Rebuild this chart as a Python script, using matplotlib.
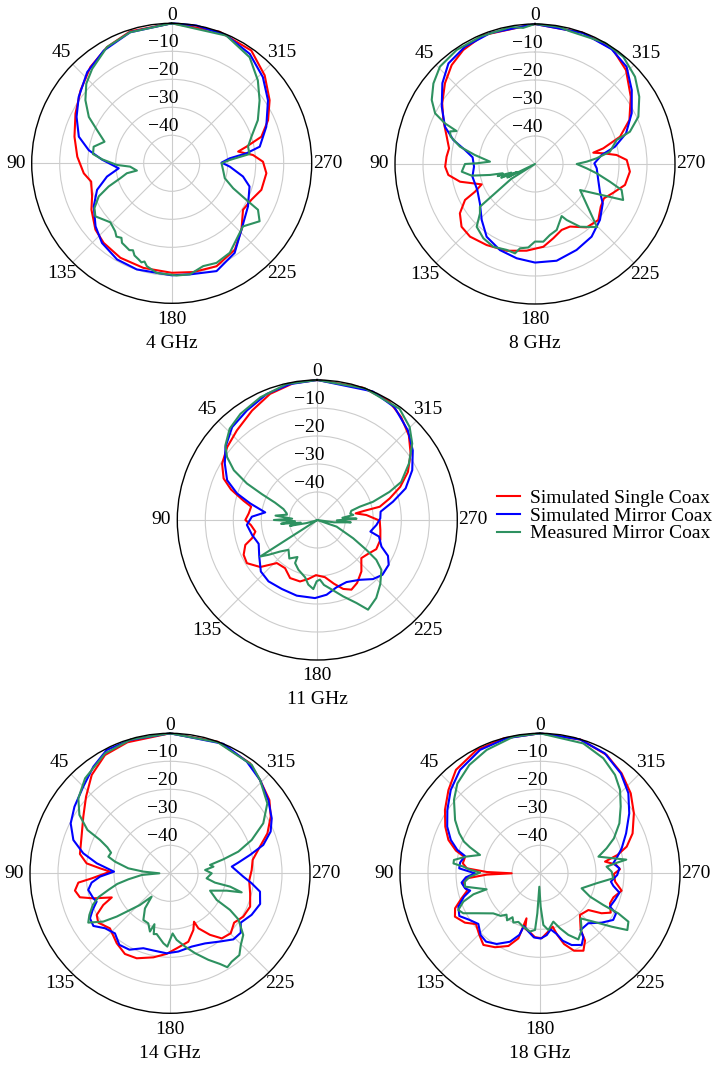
import numpy as np
import matplotlib
matplotlib.use("Agg")
import matplotlib.pyplot as plt
from matplotlib import transforms

plt.rcParams['font.family'] = ['Liberation Serif', 'DejaVu Serif']

f_size = 14
l_width = 1.5
c_single = "#ff0000"
c_mirror = "#0000ff"
c_meas = "#2e9160"
grid_color = "#cccccc"

labels = ["Simulated Single Coax", "Simulated Mirror Coax", "Measured Mirror Coax"]
freqs = ["4 GHz", "8 GHz", "11 GHz", "14 GHz", "18 GHz"]
ring_vals = [-40, -30, -20, -10]
theta_ticks = [0, 45, 90, 135, 180, 225, 270, 315]

# ---------------- 4 GHz ----------------
th4_single = [0, 17.4, 29.1, 40.2, 51.3, 62.6, 74.7, 86, 96.5, 102.8, 112.6, 120, 131, 139.5, 151.5, 164.9,
              180, 191.2, 203.5, 216.2, 226.4, 236.9, 245.4, 253.5, 264, 271, 275.8, 280, 282.5, 286.5,
              294.1, 302.8, 313.4, 324.8, 340, 360]
db4_single = [0, -0.6, -2.5, -5, -8.3, -11.3, -14, -16.2, -18.4, -20.5, -19.2, -16.9, -13.9, -12.6, -11.6, -11.3,
              -10.9, -10.4, -9.9, -11.8, -15.6, -19.6, -18.7, -16.6, -16, -17.4, -20.8, -25.9, -22.7, -16.6,
              -12.3, -8.4, -4.3, -0.7, 0, 0]
th4_mirror = [0, 17.6, 31.1, 42.8, 54.5, 64, 74, 81, 87, 95.4, 101.6, 109.6, 118.9, 129.6, 138.8, 150.4, 161.8,
              180, 189.3, 202.6, 215.1, 226.4, 240.5, 253.4, 259.5, 266.7, 270.8, 274.9, 277.6, 280.7, 291.1,
              303.2, 313.4, 324.5, 337, 349.8, 360]
db4_mirror = [0, -0.9, -3.0, -5.6, -9.2, -12.2, -15.5, -20, -25.1, -31, -26.4, -21.7, -18.2, -14.7, -12.2, -10.5,
              -10.1, -10, -9.8, -8.3, -10.9, -15.6, -18.7, -21, -24.1, -29.2, -32.2, -29.2, -23.1, -18, -13.8,
              -8.9, -5.2, -2, -0.3, 0, 0]
th4_meas = [0, 17.6, 29.1, 40.1, 47, 53.8, 60.8, 66, 72.2, 78, 83.3, 86.7, 91.7, 94.6, 101.8, 102.5, 106.2,
            110.2, 114.4, 120.1, 124.8, 133.9, 140.3, 143, 146, 148, 150.8, 154, 156, 158, 161, 163, 164.5,
            166.4, 172.2, 182.5, 189.3, 197, 204.2, 213, 222.3, 228.5, 236.6, 241.7, 243.9, 247.9, 254.3,
            262.6, 270, 273.3, 276.8, 282.3, 288.4, 296.6, 305.6, 313.9, 323.7, 336.8, 360]
db4_meas = [0, -0.9, -2.5, -5.9, -8.3, -11.8, -16.1, -20.8, -24.8, -21.5, -21.7, -25.1, -30.4, -35.1, -37.3,
            -33.6, -30.9, -26, -21.4, -18.1, -16.8, -19.6, -18.4, -17.2, -17.9, -16.5, -16.1, -15.5, -16.0,
            -14.5, -13.7, -13.0, -13.6, -12.2, -10.5, -9.9, -9.8, -11.6, -11, -11.9, -14.8, -16, -12.4, -15,
            -20.3, -26.3, -30.3, -31.5, -32.2, -29.2, -22, -22.1, -20, -15.6, -11.4, -7.3, -3, -0.4, 0]

# ---------------- 8 GHz ----------------
th8_single = [0, 21.8, 32.2, 40.1, 48.1, 56.8, 64.4, 72.8, 79.7, 85.3, 91.7, 97.2, 103.3, 110.9, 114.8, 117.2,
              123.3, 130.5, 138.2, 149.2, 161.9, 174.5, 185.8, 193.9, 202, 209.2, 219.2, 228.5, 237, 243.5,
              249.9, 256.9, 265.4, 272.5, 276.3, 278.9, 281, 282.9, 287.8, 295, 305.1, 315.9, 325.9, 340, 360]
db8_single = [0, -0.4, -1.9, -3.8, -6.8, -10.4, -13.7, -17, -18.8, -18.3, -17.9, -18.8, -22.5, -29.6, -26.4,
              -21.9, -17.9, -15.5, -15.2, -16.3, -17.4, -18.9, -20.3, -22.7, -24.6, -24.4, -20.8, -19.8, -22,
              -22.5, -20.2, -17, -16, -17.2, -20.7, -25.3, -28.8, -25, -18.1, -12.8, -8.2, -3.3, -0.5, -0.1, 0]
th8_mirror = [0, 19, 30.8, 40.7, 48.9, 58.4, 67.5, 73.6, 78.7, 83.9, 92.5, 101.4, 114.3, 125.6, 136.4, 146.4,
              157.9, 169, 180, 192.6, 205.8, 217.9, 229.3, 239.8, 246.9, 255.8, 266, 270.6, 277.7, 282.2,
              288.6, 297.7, 307.4, 316.7, 326.3, 340, 360]
db8_mirror = [0, -0.6, -1.2, -2.6, -6.1, -10.9, -15.2, -19.6, -24.5, -27.6, -28.2, -27.2, -27.4, -25.8, -22.4,
              -18.8, -16.8, -15.7, -14.8, -14.6, -15.9, -17.1, -19.4, -22, -24.8, -26.7, -27.9, -28.8, -26,
              -20.8, -15.7, -11, -6.5, -2.3, -0.7, -0.2, 0]
th8_meas = [0, 5, 10, 23, 34.5, 44.3, 51.6, 58.2, 63.1, 65.7, 67.2, 69, 72, 77, 81.5, 87, 89.3, 90, 96, 100.4,
            103.7, 106, 108, 110, 112, 114, 116, 118, 122, 127.8, 131.9, 137.1, 145.2, 153.3, 161.8, 167.4,
            169.9, 175.4, 180, 186.1, 191.9, 198.2, 207.1, 209.5, 215.7, 224.5, 240, 247.8, 253.3, 256.7,
            261.4, 265.2, 270, 272.6, 275.3, 279.3, 286.4, 288.8, 294.6, 302.8, 311.1, 320.5, 330, 345, 350,
            360]
db8_meas = [0, -1.2, -0.3, -0.5, -0.6, -1.4, -3.7, -6.6, -10, -14.7, -19.6, -17.5, -18.3, -22.5, -28.3, -33.9,
            -29.2, -25, -23.7, -27, -33.5, -38, -36, -41, -37, -43, -39, -50, -40, -25.1, -23.6, -19.4, -17.7,
            -16.9, -17.7, -17.3, -19.4, -20.1, -22.3, -22.1, -24.1, -25.2, -29.1, -27, -22.4, -18.4, -31.4,
            -16, -17.7, -22.5, -27.7, -31.5, -35.1, -31.5, -27.9, -22.9, -19.6, -14.2, -9.4, -5.7, -2.6,
            -0.4, 0, -1.0, -0.3, 0]

# ---------------- 11 GHz ----------------
th11_single = [0, 9.9, 20.5, 30.8, 41.9, 51, 59.4, 66.1, 70.5, 75.4, 78.6, 84.5, 90, 94.3, 100.6, 105.6, 109.1,
               115.3, 121.5, 129.5, 136.8, 146.2, 154.9, 164.3, 171.4, 178.6, 187.6, 194.6, 200.6, 206.1,
               212.3, 220.6, 229.1, 236.3, 243.7, 252.5, 261, 269.4, 275.8, 279.8, 281.1, 282, 286.6, 291.8,
               297.9, 305.4, 312.7, 320.8, 329, 341, 360]
db11_single = [0, -0.4, -1.9, -4.5, -7, -8.6, -10.5, -13.4, -17.3, -22.8, -25.9, -25.4, -24.3, -26.2, -27.5,
               -25.8, -22.8, -20.9, -20.5, -23.6, -28.9, -29.3, -27.1, -27.2, -28.7, -30.3, -29.4, -26.5, -23.7,
               -22.3, -23.4, -25.8, -29.2, -28.2, -26.5, -26.4, -27.2, -27.7, -32.4, -36.1, -32.7, -27.2, -23,
               -18.1, -13.4, -9.1, -5.5, -2.6, -0.4, 0, 0]
th11_mirror = [0, 11.3, 21.8, 32.7, 42.5, 51.5, 58.6, 66.2, 71.7, 76.1, 81.7, 87.1, 94, 102.9, 112.1, 122.2,
               132.4, 141.5, 152.8, 164.8, 178.3, 187.1, 195.9, 205.2, 215.4, 223.3, 229.9, 237.9, 243.1,
               247.5, 255, 257.7, 265.2, 271.5, 277.5, 283.6, 289.7, 297.7, 306.1, 314.7, 325.6, 336.7, 360]
db11_mirror = [0, -0.5, -1.5, -3.5, -5, -8.1, -11.3, -14.8, -19.8, -25.3, -31.2, -26.6, -24.8, -26.1, -27.4,
               -25.5, -22.7, -22, -22.3, -22, -22.1, -23.1, -25, -25.5, -23.8, -21, -19.6, -19.9, -21.7, -25.2,
               -27.2, -30.6, -28.8, -27.5, -27.2, -22.2, -16.5, -11.7, -7.8, -4.5, -1.2, 0, 0]
th11_meas = [0, 12.6, 24.9, 35.9, 43.8, 50.9, 55.1, 59.2, 62.6, 65, 67.7, 72.1, 77.7, 80, 84, 87, 90, 93, 96,
             99, 102, 106, 110, 116, 122.6, 125.5, 130.3, 136, 144, 151.8, 152.7, 159.2, 167.9, 172.1, 176.7,
             179.4, 182.5, 185.8, 192.8, 198.7, 205.3, 209.5, 217.1, 224.5, 232.1, 236, 238.7, 243, 251, 258,
             262, 266, 269, 272, 275, 278, 281, 285.2, 287.4, 288.1, 291.3, 294.4, 301.6, 308.8, 315.2, 323.5,
             340, 360]
db11_meas = [0, -0.2, -1.7, -3.2, -4.8, -7.7, -10.7, -15.3, -21.7, -28.2, -33.7, -37.3, -38.8, -39, -35, -41,
             -34.5, -42, -37, -44, -40, -46, -49, -50, -25.8, -28.6, -32.6, -35.2, -33, -35, -32.7, -31, -29.1,
             -26.7, -25.3, -28.1, -28.7, -26.7, -24.2, -21.2, -17.2, -13.2, -15.1, -17.9, -21, -24.6, -29.5,
             -35.6, -42.7, -50, -44, -38, -43, -36, -41, -37, -38, -37.4, -34.1, -29.1, -22.3, -17.1, -11.6,
             -6.5, -3.2, -0.6, 0, 0]

# ---------------- 14 GHz ----------------
th14_single = [0, 18, 28.8, 38.5, 47.6, 56.8, 67.5, 77.9, 83.2, 85.9, 88.4, 93.7, 95.8, 100.3, 104.9, 108.1,
               112.5, 115.4, 119.6, 124.5, 132.5, 142.7, 150.8, 158.6, 168.8, 177.6, 185.1, 195, 202.4, 206.4,
               207.3, 213, 218.5, 225.3, 232.4, 239.4, 247.4, 256, 264.8, 272.3, 279.2, 286.5, 292.3, 299.4,
               306.4, 316, 324, 340, 360]
db14_single = [0, -0.8, -1.8, -5.1, -9.4, -13, -15.8, -17.1, -20, -24.9, -28.6, -22, -17.1, -15.5, -16.7,
               -21.2, -27.5, -23.6, -19.9, -18.9, -20.9, -18.6, -17, -17.4, -19.4, -21.2, -23.1, -24.7, -28.1,
               -30.7, -27.9, -23.8, -20.3, -19.5, -21.1, -19.6, -19, -20.5, -21.6, -20.8, -20.1, -16.5, -12.4,
               -8.7, -5.9, -3.7, -1.4, 0, 0]
th14_mirror = [0, 16.5, 27.2, 35.7, 45, 55.1, 63.3, 71, 77, 82.2, 88.3, 92.7, 96.8, 101.5, 108, 111.1, 115.4,
               119.4, 124.5, 130.2, 137.5, 144.7, 152, 160.4, 167.8, 177.6, 186.1, 196.5, 206.6, 216.2, 223.8,
               230, 235.1, 243, 251.2, 258.5, 263, 267.4, 276.2, 278.9, 282.9, 286.9, 292.5, 298.4, 306.7,
               316, 325.5, 337.7, 360]
db14_mirror = [0, -0.3, -0.5, -3.1, -6.2, -8.4, -10.3, -13.5, -18.2, -23.6, -30, -25, -21.8, -20.2, -21.2,
               -21.9, -19.4, -17.2, -16.8, -19.6, -20.9, -18.7, -19.1, -21.6, -21.8, -21.4, -21.9, -22.7, -22,
               -19.8, -17.3, -17, -19.2, -17.3, -16, -17.2, -20.6, -23.8, -27.8, -25.3, -20.7, -15.2, -11.1,
               -8.7, -6.2, -3.7, -1.6, 0, 0]
th14_meas = [0, 16.3, 28.4, 41.8, 50.7, 57.2, 62.3, 64.5, 67.5, 70.7, 74.9, 78, 83.2, 86.4, 90, 93.4, 98.2,
             101.4, 105.1, 108.5, 112.3, 117.3, 121.1, 125.9, 129.1, 132.5, 136.5, 141.8, 144.5, 150.3, 156.6,
             161, 163, 165, 167.6, 174.6, 177.9, 182.5, 185.7, 191.6, 197.4, 203.9, 208.9, 211.4, 214.9, 220.3,
             224.6, 229.9, 236, 238.6, 240.3, 246.6, 253, 255.1, 257.5, 258.3, 262.2, 270, 275.4, 278.7,
             281.8, 284.7, 287.6, 292.2, 298.2, 305.7, 316, 323, 340, 360]
db14_meas = [0, -0.2, -1.3, -4.5, -7.7, -11.5, -16.7, -22.3, -25.8, -27.7, -27.2, -29.9, -35, -40.5, -46.2,
             -39.9, -35, -30.8, -27.2, -23, -20.2, -17.6, -15.9, -20.6, -25.5, -30.6, -34.4, -39.4, -34.6,
             -30.8, -30.5, -28, -31, -27.5, -27.8, -24.9, -23.8, -28.5, -26.1, -23.3, -20.1, -16.2, -13, -10.7,
             -11.5, -11.7, -14, -15.8, -20.5, -24.9, -30.8, -34.4, -28.8, -23.5, -28, -33.6, -36.8, -35.1,
             -37.4, -34.3, -35.4, -30.3, -24.4, -18.5, -12.2, -7.2, -3.7, -1.5, -0.2, 0]

# ---------------- 18 GHz ----------------
th18_single = [0, 15.1, 27.2, 39.1, 47.7, 56.3, 63.8, 70, 74.9, 78, 82.6, 86.1, 88.6, 90, 91.4, 93.9, 97.9,
               103.4, 107.7, 112.4, 117, 123.3, 128.4, 135.5, 141.7, 148.7, 156.5, 161.6, 163.3, 165, 169.6,
               175.5, 181.5, 189.2, 193.4, 195.7, 198.8, 203.7, 209.3, 213.8, 215.7, 223.8, 232.8, 237, 240.9,
               246.8, 251.9, 258, 263.7, 269.5, 272.9, 276.5, 280.2, 283.3, 287.1, 293.3, 302.6, 311.4, 320.8,
               330.6, 343, 360]
db18_single = [0, -0.1, -0.5, -2.4, -5.8, -9.2, -12.3, -15.2, -18.9, -22.6, -22.2, -23.8, -31, -39.9, -31, -24,
               -22.1, -23.3, -20.6, -17.2, -15.9, -17.9, -20.8, -19.1, -17.4, -19.1, -21.7, -25.5, -33.2, -29.5,
               -28.8, -27.1, -26.8, -29.3, -30.4, -27.1, -23.3, -19.8, -18.3, -21.1, -25.1, -29.4, -28.3, -23.8,
               -21.1, -22.8, -22.4, -20.2, -23, -23.6, -21.4, -22.7, -26.4, -21.6, -17.6, -14, -10.2, -6.8,
               -3.9, -1.5, -0.1, 0]
th18_mirror = [0, 13.8, 25.9, 37.7, 47, 55.6, 63.3, 69.5, 74.2, 77, 82.4, 86.5, 90, 93.1, 96.8, 101.3, 103.9,
               107.1, 112.2, 117.9, 123.4, 129.4, 136.1, 141.7, 148.5, 156.3, 161.5, 163.1, 168.7, 174.6, 180.6,
               186.2, 190.8, 195.4, 198.6, 203.8, 210.2, 214.1, 215.7, 224, 231.3, 237.5, 242.2, 244.5, 250.4,
               256.3, 260.2, 263.3, 268.8, 273.6, 277.8, 282.2, 287, 294.9, 303.9, 312.2, 321, 331.6, 343.4, 360]
db18_mirror = [0, -0.3, -1, -3.3, -6.4, -9.9, -12.9, -16, -19.3, -22.5, -21.2, -21.1, -26.8, -23.5, -21.8,
               -22.7, -24.3, -21.6, -18.5, -17.4, -19.8, -21.5, -19.4, -18.9, -20.4, -23.3, -26.8, -30.3, -28.8,
               -27, -26.7, -27.8, -29.6, -27.5, -24.6, -22, -20.4, -22.4, -25.1, -25.2, -21.8, -19, -19.3,
               -22.3, -21.6, -20.8, -23.4, -24.5, -22.4, -21.6, -23.6, -21.7, -19.5, -16.1, -11.6, -7.4, -4.1,
               -1.3, -0.1, 0]
th18_meas = [0, 11, 23.4, 33.1, 42.6, 49.5, 57.9, 63.6, 67.4, 69.6, 73, 77.3, 81.2, 83.5, 85, 87, 89.4, 92.7,
             96.3, 100.1, 106.7, 107.5, 110.3, 114.2, 117.5, 122.3, 130.6, 137.3, 141, 145, 148, 151.6, 156,
             162.6, 170.3, 175, 176.2, 177.1, 181.1, 183.7, 188.4, 195.4, 200, 204.7, 210.1, 216.3, 222.1,
             227.8, 233.3, 237, 241.3, 242.9, 243.4, 245, 250.2, 260, 266.1, 271.3, 275.7, 277.9, 279, 281.6,
             285.9, 290.6, 295.3, 302.2, 309.6, 316.2, 322.7, 331.2, 341.6, 360]
db18_meas = [0, -0.3, -2, -3.8, -6.4, -9.6, -14.2, -17.8, -20.6, -23.3, -27.6, -22.9, -18.9, -18.9, -22.5,
             -24.9, -28.6, -25, -23, -22.8, -30.1, -25.1, -20.8, -18, -19.1, -23.3, -28, -29.3, -31, -29.5,
             -31.5, -30, -31, -30, -28.9, -29.7, -35.7, -45.2, -38.1, -31.5, -29.5, -32.1, -29.1, -25.8, -22.7,
             -24.9, -28.3, -24.3, -18.1, -12.8, -14, -18.6, -24.7, -30.3, -34.2, -29.5, -23.8, -24.4, -26.1,
             -22.1, -18.8, -23.3, -28.3, -24.6, -20.8, -16.5, -12.6, -8.7, -5.8, -3.1, -1.1, 0]

# figure layout in pixels (dpi 100)
W, H = 717, 1065
R_PX = 140
centers = [(171.7, 163.3), (535, 164), (317.3, 520), (170, 873.3), (540, 873.3)]

fig = plt.figure(figsize=(W / 100, H / 100), dpi=100)


def draw_pattern(cx, cy, name, data):
    ax = fig.add_axes([(cx - R_PX) / W, 1 - (cy + R_PX) / H, 2 * R_PX / W, 2 * R_PX / H],
                      projection='polar')
    ax.set_theta_zero_location('N')
    ax.set_theta_direction(1)
    ax.set_ylim(-50, 0)
    ax.set_yticks(ring_vals)
    ax.set_yticklabels([])
    ax.set_xticks(np.deg2rad(theta_ticks))
    ax.set_xticklabels([])
    ax.grid(True, color=grid_color, linewidth=0.8)
    ax.spines['polar'].set_color('black')
    ax.spines['polar'].set_linewidth(1.0)

    colors = [c_single, c_mirror, c_meas]
    for (th, db), c, lab in zip(data, colors, labels):
        ax.plot(np.deg2rad(th), db, color=c, linewidth=l_width, label=lab, clip_on=False)

    # angle labels outside the circle
    for t in theta_ticks:
        dist = 148 if t == 0 else 156
        r = -50 + dist / R_PX * 50
        ax.text(np.deg2rad(t), r, str(t), ha='center', va='center', fontsize=f_size)

    # ring labels along the 0 deg spoke
    tr = transforms.offset_copy(ax.transData, fig=fig, x=-8, y=0, units='dots')
    for v in ring_vals:
        ax.text(0, v, '\u2212' + str(-v), transform=tr, ha='center', va='bottom', fontsize=f_size)

    fig.text(cx / W, 1 - (cy + 180) / H, name, ha='center', va='center', fontsize=f_size)
    return ax


def draw():
    all_data = [
        [(th4_single, db4_single), (th4_mirror, db4_mirror), (th4_meas, db4_meas)],
        [(th8_single, db8_single), (th8_mirror, db8_mirror), (th8_meas, db8_meas)],
        [(th11_single, db11_single), (th11_mirror, db11_mirror), (th11_meas, db11_meas)],
        [(th14_single, db14_single), (th14_mirror, db14_mirror), (th14_meas, db14_meas)],
        [(th18_single, db18_single), (th18_mirror, db18_mirror), (th18_meas, db18_meas)],
    ]
    axes = []
    for (cx, cy), name, data in zip(centers, freqs, all_data):
        axes.append(draw_pattern(cx, cy, name, data))

    handles, labs = axes[0].get_legend_handles_labels()
    fig.legend(handles, labs, loc='center left', bbox_to_anchor=(497 / W, 1 - 516 / H),
               frameon=False, fontsize=f_size, handlelength=1.2, handletextpad=0.5,
               labelspacing=0.0, borderpad=0, borderaxespad=0)

    fig.savefig("out.png", dpi=100)


if __name__ == "__main__":
    draw()
